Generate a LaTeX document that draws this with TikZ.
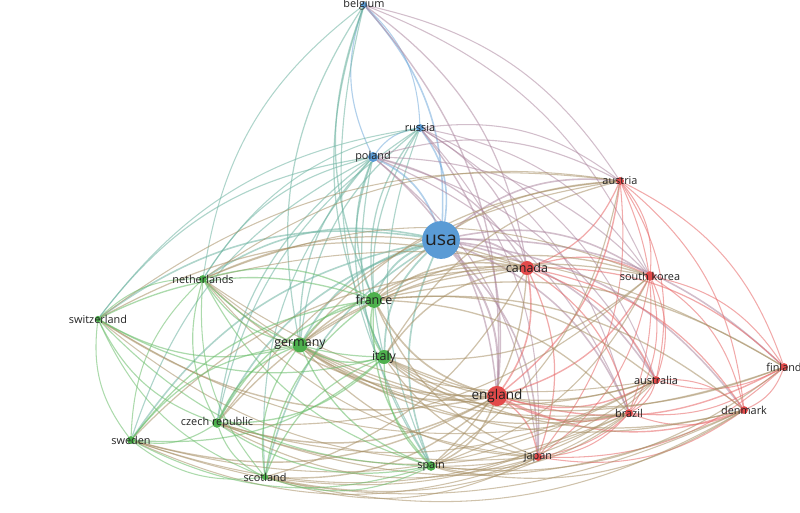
\documentclass[tikz,border=0pt]{standalone}
\usepackage{fontspec}
\usepackage{xstring}
\setmainfont{Open Sans}
\usetikzlibrary{backgrounds}
\definecolor{vblue}{HTML}{5A9BD5}
\definecolor{vred}{HTML}{E24A4A}
\definecolor{vgreen}{HTML}{4DB04D}
\definecolor{labeltext}{HTML}{222222}

\tikzset{
  country/.style={circle, inner sep=0pt, draw=none, minimum size=#1},
  lblS/.style={font=\fontsize{6.2}{7}\selectfont, text=labeltext},
  lblM/.style={font=\fontsize{7.1}{8}\selectfont, text=labeltext},
  lblL/.style={font=\fontsize{7.7}{9}\selectfont, text=labeltext},
  lblXL/.style={font=\fontsize{11}{12}\selectfont, text=labeltext},
  link/.style={draw opacity=0.55, line cap=round}
}

% id/colour/weight, in drawing order
\def\countries{bel/vblue/1, rus/vblue/1, pol/vblue/1.5, usa/vblue/4,
  can/vred/2, aut/vred/1, kor/vred/1, eng/vred/3, aus/vred/1, fin/vred/1,
  bra/vred/1, den/vred/1, jap/vred/1,
  net/vgreen/1, fra/vgreen/2.5, swi/vgreen/1, ger/vgreen/2, ita/vgreen/2,
  cze/vgreen/1.5, swe/vgreen/1, sco/vgreen/1, spa/vgreen/1.5}
% pairs with no link
\def\nolinks{,bel-swi,bel-swe,bel-sco,bel-cze,bel-fin,bel-den,bel-bra,bel-jap,bel-aus,
  rus-swi,rus-swe,rus-sco,rus-fin,rus-den,pol-fin,pol-den,
  aut-swi,aut-swe,aut-sco,kor-swi,kor-swe,kor-sco,
  fin-net,fin-swi,fin-swe,fin-sco,fin-cze,den-swi,den-net,aus-swi,}

\begin{document}
\begin{tikzpicture}[x=0.02cm, y=-0.02cm]
  \useasboundingbox (0,0) rectangle (800,513);
  \coordinate (mid) at (440,330);

  % blue cluster
  \node[country=3.6pt, fill=vblue] (bel) at (364,5) {};
  \node[country=4.5pt, fill=vblue] (rus) at (420,128) {};
  \node[country=5.8pt, fill=vblue] (pol) at (373,157) {};
  \node[country=21.5pt, fill=vblue] (usa) at (441,240) {};

  % red cluster
  \node[country=8pt, fill=vred] (can) at (527,268) {};
  \node[country=4.5pt, fill=vred] (aut) at (620,181) {};
  \node[country=5.5pt, fill=vred] (kor) at (650,276) {};
  \node[country=11.5pt, fill=vred] (eng) at (497,396) {};
  \node[country=4.5pt, fill=vred] (aus) at (656,380) {};
  \node[country=4.5pt, fill=vred] (fin) at (784,367) {};
  \node[country=4.5pt, fill=vred] (bra) at (629,413) {};
  \node[country=4.5pt, fill=vred] (den) at (744,410) {};
  \node[country=4.5pt, fill=vred] (jap) at (538,457) {};

  % green cluster
  \node[country=4.5pt, fill=vgreen] (net) at (203,279) {};
  \node[country=9pt, fill=vgreen] (fra) at (374,300) {};
  \node[country=3.6pt, fill=vgreen] (swi) at (98,319) {};
  \node[country=8.5pt, fill=vgreen] (ger) at (300,345) {};
  \node[country=8pt, fill=vgreen] (ita) at (384,357) {};
  \node[country=5.5pt, fill=vgreen] (cze) at (217,423) {};
  \node[country=4.5pt, fill=vgreen] (swe) at (131,440) {};
  \node[country=3.6pt, fill=vgreen] (sco) at (265,477) {};
  \node[country=5.5pt, fill=vgreen] (spa) at (431,466) {};

  % labels
  \node[lblS] (belL) at (bel) {belgium};
  \node[lblS] (rusL) at (rus) {russia};
  \node[lblS] (polL) at (pol) {poland};
  \node[lblXL] (usaL) at (usa) {usa};
  \node[lblM] (canL) at (can) {canada};
  \node[lblS] (autL) at (aut) {austria};
  \node[lblS] (korL) at (kor) {south korea};
  \node[lblL] (engL) at (eng) {england};
  \node[lblS] (ausL) at (aus) {australia};
  \node[lblS] (finL) at (fin) {finland};
  \node[lblS] (braL) at (bra) {brazil};
  \node[lblS] (denL) at (den) {denmark};
  \node[lblS] (japL) at (jap) {japan};
  \node[lblS] (netL) at (net) {netherlands};
  \node[lblM] (fraL) at (fra) {france};
  \node[lblS] (swiL) at (swi) {switzerland};
  \node[lblM] (gerL) at (ger) {germany};
  \node[lblM] (itaL) at (ita) {italy};
  \node[lblS] (czeL) at (cze) {czech republic};
  \node[lblS] (sweL) at (swe) {sweden};
  \node[lblS] (scoL) at (sco) {scotland};
  \node[lblS] (spaL) at (spa) {spain};

  % links, all bent outwards
  \begin{scope}[on background layer]
    \path (mid); \pgfgetlastxy{\cx}{\cy}
    \foreach \a/\ca/\wa [count=\i] in \countries {
      \foreach \b/\cb/\wb [count=\j] in \countries {
        \ifnum\j>\i
          \IfSubStr{\nolinks}{,\a-\b,}{}{%
            \path (\a.center); \pgfgetlastxy{\ax}{\ay}
            \path (\b.center); \pgfgetlastxy{\bx}{\by}
            \pgfmathsetmacro\bd{((\ax-\cx)/100*(\by-\cy)/100-(\ay-\cy)/100*(\bx-\cx)/100)>0 ? -22 : 22}
            \pgfmathsetmacro\lw{0.4+0.1*(\wa+\wb)}
            \draw[link, draw=\ca!50!\cb!85!white, line width=\lw pt] (\a) to[bend left=\bd] (\b);
          }
        \fi
      }
    }
  \end{scope}
\end{tikzpicture}
\end{document}
